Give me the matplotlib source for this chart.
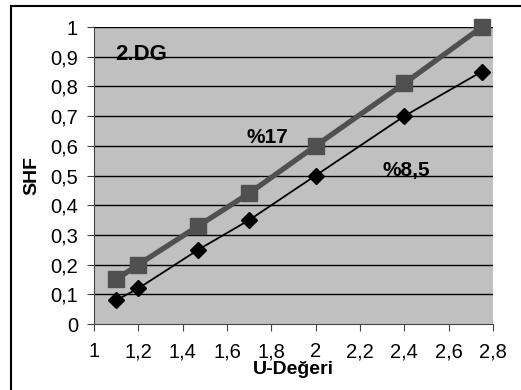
import matplotlib.pyplot as plt
from matplotlib.lines import Line2D
from matplotlib.ticker import FuncFormatter

plt.rcParams['font.family'] = ['Liberation Sans', 'DejaVu Sans']

u_degeri = [1.1, 1.2, 1.47, 1.7, 2.0, 2.4, 2.75]
shf_17 = [0.15, 0.2, 0.33, 0.44, 0.6, 0.81, 1.0]
shf_85 = [0.08, 0.12, 0.25, 0.35, 0.5, 0.7, 0.85]

fig = plt.figure(figsize=(5.21, 3.90), dpi=100)
fig.patch.set_facecolor('white')
# cerceve: sol ve ust kenar (sag ve alt resmin disinda)
W, H = 521.0, 390.0
fig.lines.append(Line2D([11 / W, 11 / W], [0, 1 - 6 / H], transform=fig.transFigure,
                        color='black', linewidth=1.5))
fig.lines.append(Line2D([11 / W, 1], [1 - 6 / H, 1 - 6 / H], transform=fig.transFigure,
                        color='black', linewidth=1.5))

ax = fig.add_axes([94 / W, 1 - 324 / H, 399 / W, 297 / H])
ax.set_facecolor('#c0c0c0')

for v in [0.1 * i for i in range(1, 11)]:
    ax.axhline(v, color='black', linewidth=1.0, zorder=1)

ax.plot(u_degeri, shf_17, color='#505050', linewidth=3.8, marker='s', markersize=11.5,
        markerfacecolor='#505050', markeredgecolor='#505050', zorder=3, clip_on=False)
ax.plot(u_degeri, shf_85, color='black', linewidth=1.3, marker='D', markersize=8,
        markerfacecolor='black', zorder=4, clip_on=False)

ax.set_xlim(1, 2.8)
ax.set_ylim(0, 1)
ax.set_xticks([1 + 0.2 * i for i in range(10)])
ax.set_yticks([0.1 * i for i in range(11)])

def virgul(x, pos):
    s = ('%.1f' % x).rstrip('0').rstrip('.')
    return s.replace('.', ',')

ax.xaxis.set_major_formatter(FuncFormatter(virgul))
ax.yaxis.set_major_formatter(FuncFormatter(virgul))
ax.tick_params(axis='both', labelsize=14.5, color='#444444', direction='out', length=5)
ax.tick_params(axis='x', pad=8)
ax.tick_params(axis='y', pad=6.5)

for side in ['top', 'right']:
    ax.spines[side].set_visible(False)
for side in ['left', 'bottom']:
    ax.spines[side].set_color('#444444')

ax.text(1.095, 0.89, '2.DG', fontsize=16, fontweight='bold')
ax.text(1.69, 0.61, '%17', fontsize=15, fontweight='bold')
ax.text(2.3, 0.50, '%8,5', fontsize=15, fontweight='bold')

ax.set_ylabel('SHF', fontsize=14, fontweight='bold', labelpad=7)
ax.set_xlabel('U-Değeri', fontsize=14, fontweight='bold', labelpad=0)

fig.savefig('out.png', dpi=100)
